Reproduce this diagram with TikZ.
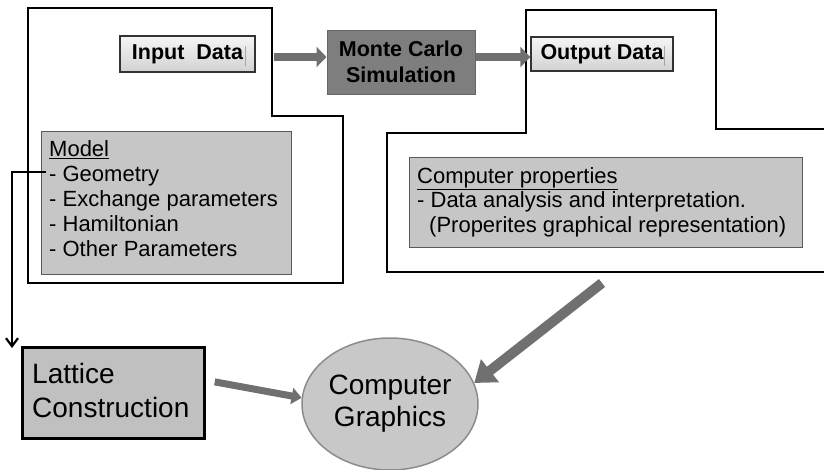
\documentclass[tikz,border=0pt]{standalone}
\usepackage{fontspec}
\setmainfont{Liberation Sans}
\usetikzlibrary{arrows.meta,shapes.geometric}
\definecolor{panelgray}{HTML}{C6C6C6}
\definecolor{latgray}{HTML}{C0C0C0}
\definecolor{mcgray}{HTML}{7E7E7E}
\definecolor{arrowgray}{HTML}{707070}
\definecolor{ellgray}{HTML}{C8C8C8}
\tikzset{
  outline/.style={draw=black, line width=2.7pt, line join=miter},
  panel/.style={draw=black!65, line width=1pt, fill=panelgray, inner sep=0pt, anchor=north west},
  paneltext/.style={anchor=north west, align=left, inner sep=0pt, font=\fontsize{22}{25.2}\selectfont},
  iobox/.style={draw=black!80, line width=1.3pt, top color=gray!8, bottom color=gray!35, inner sep=0pt, font=\fontsize{21.5}{25}\selectfont\bfseries},
  bevel/.style={draw=gray!70, line width=0.9pt},
  mcbox/.style={draw=black!60, line width=1pt, fill=mcgray, inner sep=0pt, align=center, font=\fontsize{21.5}{25.5}\selectfont\bfseries},
  latbox/.style={draw=black, line width=2.7pt, fill=latgray, inner sep=0pt, anchor=north west},
  bigtext/.style={anchor=north west, align=left, inner sep=0pt, font=\fontsize{28}{34}\selectfont},
  cgell/.style={ellipse, draw=black!45, line width=1.5pt, fill=ellgray, inner sep=0pt, minimum width=176pt, minimum height=132pt, align=center, font=\fontsize{28}{32}\selectfont},
  fat/.style={draw=arrowgray, line width=8pt, -{Triangle[length=10pt,width=20pt]}},
  fatmid/.style={draw=arrowgray, line width=7pt, -{Triangle[length=10pt,width=16pt]}},
  fatbig/.style={draw=arrowgray, line width=10pt, -{Triangle[length=20pt,width=28pt]}},
  thinarrow/.style={draw=black, line width=2.2pt, -{Straight Barb[length=8pt,width=12pt]}}
}
\begin{document}
\begin{tikzpicture}[x=1pt,y=-1pt]
\useasboundingbox (0,0) rectangle (824,469);
\fill[white] (0,0) rectangle (824,469);

% outlines
\draw[outline] (28,8) -- (272,8) -- (272,116) -- (343,116) -- (343,283) -- (28,283) -- cycle;
\draw[outline] (830,129) -- (716,129) -- (716,10) -- (526,10) -- (526,133) -- (387,133) -- (387,272) -- (830,272);

% top row
\node[iobox, minimum width=135pt, minimum height=36pt] (in) at (187.5,54) {Input~ Data};
\draw[bevel] ([xshift=-10pt,yshift=-11pt]in.north east) -- ([xshift=-10pt,yshift=7pt]in.south east);
\node[mcbox, minimum width=148pt, minimum height=64pt] (mc) at (401,62) {Monte Carlo\\Simulation};
\node[iobox, minimum width=142pt, minimum height=34pt] (out) at (602,54) {Output Data};
\draw[bevel] ([xshift=-9pt,yshift=-10pt]out.north east) -- ([xshift=-9pt,yshift=6pt]out.south east);

\draw[fat, shorten <=18pt] ([yshift=-3pt]in.east) -- ([yshift=-3pt]in.east -| mc.west);
\draw[fat] ([yshift=5pt]mc.east) -- ([yshift=5pt]mc.east -| out.west);

% model panel
\node[panel, minimum width=250pt, minimum height=143pt] (modelbox) at (41,131) {};
\node[paneltext] (modeltext) at (49,140) {\underline{Model}\\- Geometry\\- Exchange parameters\\- Hamiltonian\\- Other Parameters};
\coordinate (geo) at (46,172);

% properties panel
\node[panel, minimum width=393pt, minimum height=90pt] (propbox) at (409,157) {};
\node[paneltext, font=\fontsize{22}{24.5}\selectfont] (proptext) at (417,167) {\underline{Computer properties}\\- Data analysis and interpretation.\\\hspace*{12pt}(Properites graphical representation)};
\coordinate (optail) at (602,283);

% bottom row
\node[latbox, minimum width=182pt, minimum height=91pt] (lat) at (21,346) {};
\node[bigtext] (lattext) at (32,363) {Lattice\\Construction};
\node[cgell] (cg) at (390,404) {Computer\\Graphics};

\draw[thinarrow] (geo) -| ([xshift=-9pt,yshift=-2pt]lat.north west);
\draw[fatmid] ([xshift=9pt,yshift=11pt]lat.east) -- (cg.176);
\draw[fatbig] (optail) -- (cg.14);
\end{tikzpicture}
\end{document}
